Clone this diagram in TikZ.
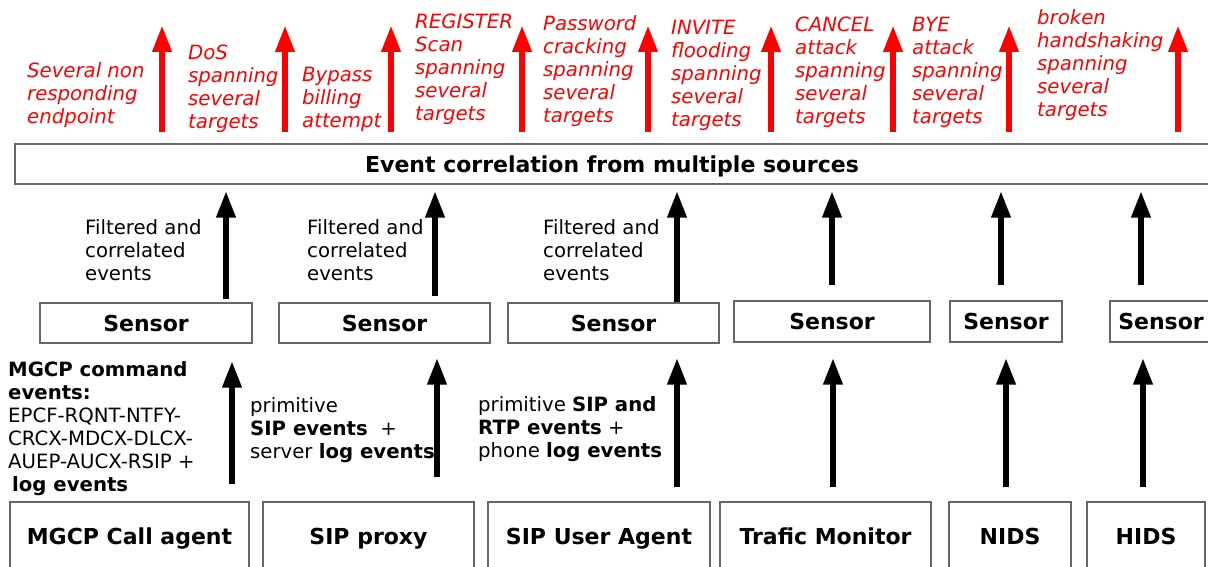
\documentclass[tikz,border=0pt]{standalone}
\usepackage{fontspec}
\setmainfont{DejaVu Sans}
\usetikzlibrary{arrows.meta, positioning}

\begin{document}
\begin{tikzpicture}[
    x=1pt, y=-1pt,
    box/.style={draw=black!60, line width=1.2pt, inner sep=0pt, text height=19.5pt, text depth=3pt, font=\fontsize{22}{26}\selectfont\bfseries},
    txt/.style={anchor=north west, align=left, inner sep=0pt, font=\fontsize{19.7}{23}\selectfont},
    attack/.style={txt, text=red, font=\fontsize{19.7}{23}\selectfont\itshape},
    feed/.style={-{Triangle[length=27pt,width=18pt]}, line width=6.5pt}, % Arrow style
    alarm/.style={feed, red, shorten <=11pt}
]
\useasboundingbox (0,0) rectangle (1208,567);
\clip (0,0) rectangle (1208,567);

% Nodes
\node[box, minimum width=1194pt, minimum height=40pt] (EC) at (612,164) {Event correlation from multiple sources};

\node[box, minimum width=212pt, minimum height=40pt] (S1) at (146,323) {Sensor};
\node[box, minimum width=211pt, minimum height=40pt] (S2) at (384.5,323) {Sensor};
\node[box, minimum width=211pt, minimum height=40pt] (S3) at (613.5,323) {Sensor};
\node[box, minimum width=196pt, minimum height=41pt] (S4) at (832,321.5) {Sensor};
\node[box, minimum width=112pt, minimum height=41pt] (S5) at (1006,321.5) {Sensor};
\node[box, minimum width=102pt, minimum height=41pt] (S6) at (1161,321.5) {Sensor};

\node[box, minimum width=239pt, minimum height=68pt] (MGCP) at (129.5,536) {MGCP Call agent};
\node[box, minimum width=211pt, minimum height=68pt] (PROXY) at (368.5,536) {SIP proxy};
\node[box, minimum width=222pt, minimum height=68pt] (UA) at (599,536) {SIP User Agent};
\node[box, minimum width=211pt, minimum height=68pt] (TM) at (825.5,536) {Trafic Monitor};
\node[box, minimum width=122pt, minimum height=68pt] (NIDS) at (1010,536) {NIDS};
\node[box, minimum width=118pt, minimum height=68pt] (HIDS) at (1146,536) {HIDS};

% Labels
\node[attack] (A1) at (27,62) {Several non\\responding\\endpoint};
\node[attack] (A2) at (188,45) {DoS\\spanning\\several\\targets};
\node[attack] (A3) at (302,67) {Bypass\\billing\\attempt};
\node[attack] (A4) at (415,14) {REGISTER\\Scan\\spanning\\several\\targets};
\node[attack] (A5) at (543,15) {Password\\cracking\\spanning\\several\\targets};
\node[attack] (A6) at (671,20) {INVITE\\flooding\\spanning\\several\\targets};
\node[attack] (A7) at (795,17) {CANCEL\\attack\\spanning\\several\\targets};
\node[attack] (A8) at (912,17) {BYE\\attack\\spanning\\several\\targets};
\node[attack] (A9) at (1037,9) {broken\\handshaking\\spanning\\several\\targets};

\node[txt] (F1) at (85,219) {Filtered and\\correlated\\events};
\node[txt] (F2) at (307,219) {Filtered and\\correlated\\events};
\node[txt] (F3) at (543,219) {Filtered and\\correlated\\events};

\node[txt] (E1) at (8,361) {\textbf{MGCP command}\\\textbf{events:}\\EPCF-RQNT-NTFY-\\CRCX-MDCX-DLCX-\\AUEP-AUCX-RSIP +\\\hspace*{4pt}\textbf{log events}};
\node[txt] (E2) at (250,397) {primitive\\\textbf{SIP events}\ \ +\\server \textbf{log events}};
\node[txt] (E3) at (478,396) {primitive \textbf{SIP and}\\\textbf{RTP events} +\\phone \textbf{log events}};

% Arrow ends
\coordinate (r1) at (162,25);
\coordinate (r2) at (285,25);
\coordinate (r3) at (391,25);
\coordinate (r4) at (522,25);
\coordinate (r5) at (648,25);
\coordinate (r6) at (771,25);
\coordinate (r7) at (893,25);
\coordinate (r8) at (1009,25);
\coordinate (r9) at (1178,25);

% Arrows
\draw[alarm] (EC.north -| r1) -- (r1);
\draw[alarm] (EC.north -| r2) -- (r2);
\draw[alarm] (EC.north -| r3) -- (r3);
\draw[alarm] (EC.north -| r4) -- (r4);
\draw[alarm] (EC.north -| r5) -- (r5);
\draw[alarm] (EC.north -| r6) -- (r6);
\draw[alarm] (EC.north -| r7) -- (r7);
\draw[alarm] (EC.north -| r8) -- (r8);
\draw[alarm] (EC.north -| r9) -- (r9);

\draw[feed, shorten <=3pt, shorten >=6pt] (S1.north -| 226,0) -- (EC.south -| 226,0);
\draw[feed, shorten <=6pt, shorten >=6pt] (S2.north -| 435,0) -- (EC.south -| 435,0);
\draw[feed, shorten >=6pt] (S3.north -| 677,0) -- (EC.south -| 677,0);
\draw[feed, shorten <=15pt, shorten >=6pt] (S4.north -| 832,0) -- (EC.south -| 832,0);
\draw[feed, shorten <=15pt, shorten >=6pt] (S5.north -| 1001,0) -- (EC.south -| 1001,0);
\draw[feed, shorten <=15pt, shorten >=6pt] (S6.north -| 1141,0) -- (EC.south -| 1141,0);

\draw[feed, shorten <=17pt, shorten >=17pt] (MGCP.north -| 232,0) -- (S1.south -| 232,0);
\draw[feed, shorten <=24pt, shorten >=14pt] (PROXY.north -| 437,0) -- (S2.south -| 437,0);
\draw[feed, shorten <=14pt, shorten >=14pt] (UA.north -| 677,0) -- (S3.south -| 677,0);
\draw[feed, shorten <=14pt, shorten >=15pt] (TM.north -| 833,0) -- (S4.south -| 833,0);
\draw[feed, shorten <=14pt, shorten >=15pt] (NIDS.north -| 1006,0) -- (S5.south -| 1006,0);
\draw[feed, shorten <=14pt, shorten >=15pt] (HIDS.north -| 1143,0) -- (S6.south -| 1143,0);

\end{tikzpicture}
\end{document}
